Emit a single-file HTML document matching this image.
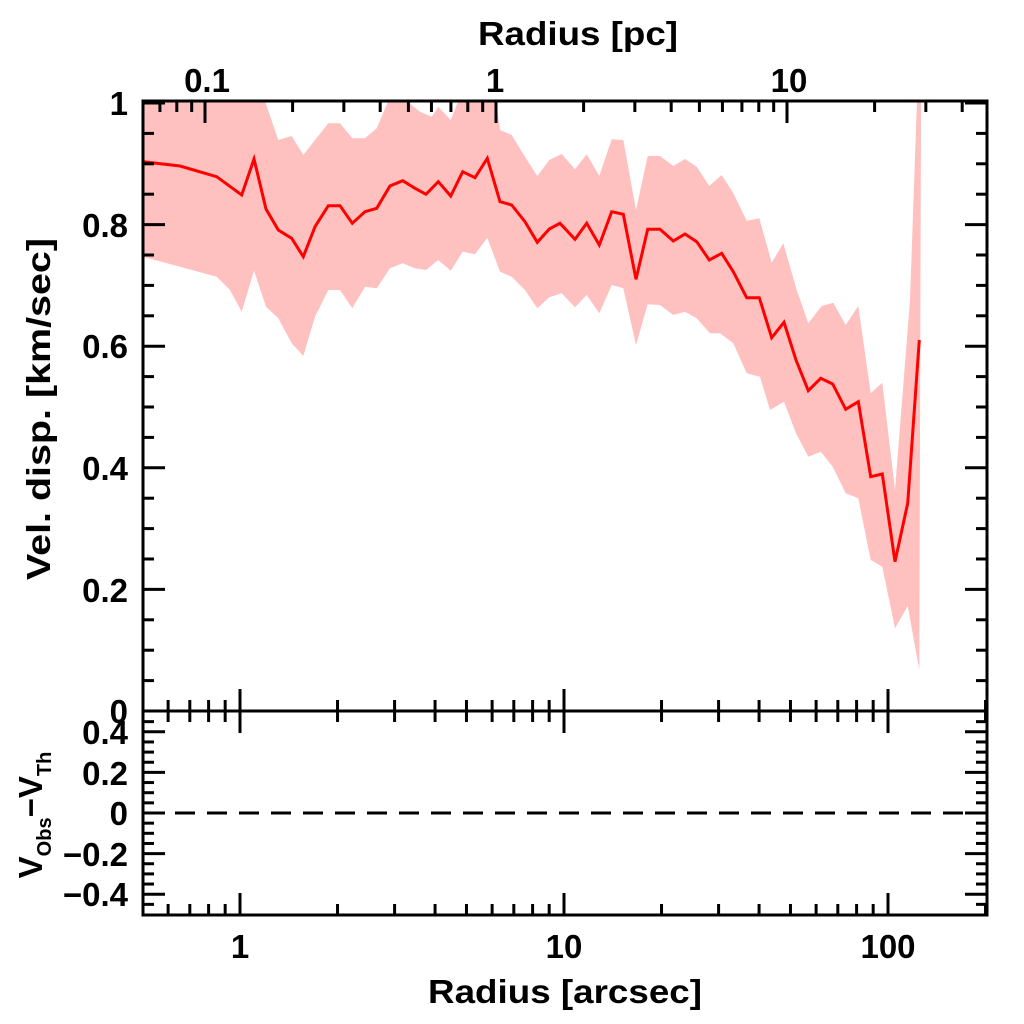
<!DOCTYPE html>
<html><head><meta charset="utf-8"><style>
html,body{margin:0;padding:0;background:#fff}
svg{display:block}
text{font-family:"Liberation Sans",sans-serif;font-weight:bold;fill:#000;font-size:33px}
</style></head><body>
<svg id="s" width="1024" height="1024" viewBox="0 0 1024 1024" xmlns="http://www.w3.org/2000/svg">
<polygon fill="#ffc0c0" points="143,101 265,101 278.3,140 291.7,136 303.3,155 315,140 328.3,123.3 340,123.3 352.3,138.3 365,138.3 376.7,128.3 388.3,101 406.7,101 420,111.7 431.7,116.7 438.3,106.7 450.7,120 458.3,101 496,101 500,130 511.7,135 525,156.7 537.3,176 549.3,160 561.7,154 575,169.3 586.7,154.3 599.3,176 611.7,139.3 623.3,140 636,210 647.7,156 660,156 673.3,166 685,159 696.7,166.7 709.3,186 721.7,175 733.3,193.3 746.7,220.7 759.3,218.3 771.7,262.7 783.3,243.3 796.7,290 808.3,323.3 821.7,306 833.3,302.7 845.7,325 858.3,306 870.7,393.3 882.3,382.7 895,490 910,300 917,101 921,101 919.3,670 907.7,606 895,628.3 882.3,566.7 870.7,560 858.3,498.3 845.7,493.3 832.7,466.7 820.7,451.7 808.3,456.7 796,433.3 784,401.7 770,410 760,376.7 746.7,373.3 733.3,343.3 720,333.3 710,333.3 696.7,318.3 685,311.7 673.3,315 660,305 647.7,304.3 636,345 623.3,288.3 611.7,285 599.3,313.3 586.7,295 575,307.3 561.7,293.3 549.3,297.3 537.3,308.3 525,290 511.7,276.7 500,271.7 487.3,237.7 475,254.3 462.7,251.7 450.7,270.7 438.3,260 426,270 415,268.3 402.7,263.3 390,268.3 376.7,288.3 365,286.7 352.3,308.3 340,290 328.3,290 315,316.7 303.3,356 291.7,343.3 278.3,318.3 266,306.7 254,270.7 241.7,311.7 230,290 216.7,276.7 143,256.7"/>
<polyline fill="none" stroke="#ff0000" stroke-width="3" stroke-linejoin="miter" points="143.3,161.7 180,166 216.7,176.7 241.7,195 254,159 266,209 278.3,230 291.7,238.3 303.3,256.7 315,226.7 328.3,205.7 340,205.7 352.3,223.3 365,211.7 376.7,208.3 390,186 402.7,180.7 415,188.3 426,194.3 438.3,181.7 450.7,196 462.7,171.7 475,177.7 487.3,158.3 500,201.7 511.7,205 525,221.7 537.3,242.3 549.3,229 560,223.3 575,239.3 586.7,223.3 599.3,245 611.7,211.7 623.3,214.3 636,279.3 647.7,229.3 660,229.3 673.3,241 685,234 696.7,241.7 709.3,260 721.7,253.3 733.3,271.7 746.7,297.7 759.3,297.7 771.7,337.7 784,322.3 796,360 808.3,390.7 820.7,378.3 832.7,384 845.7,409.3 858.3,401.7 870.7,476.7 882.3,474 895,561.7 907.7,503.3 919.3,340"/>
<line x1="143" y1="813" x2="987" y2="813" stroke="#000" stroke-width="3" stroke-dasharray="20,12"/>
<g id="ax" stroke="#000" stroke-width="3" fill="none">
<rect x="143" y="101" width="844" height="814"/>
<line x1="143" y1="711" x2="987" y2="711"/>
</g>
<text x="578" y="45" text-anchor="middle" textLength="200" lengthAdjust="spacingAndGlyphs">Radius [pc]</text>
<text x="207" y="92" text-anchor="middle">0.1</text>
<text x="495" y="92" text-anchor="middle">1</text>
<text x="789" y="92" text-anchor="middle">10</text>
<text x="240" y="958" text-anchor="middle">1</text>
<text x="564" y="958" text-anchor="middle">10</text>
<text x="888" y="958" text-anchor="middle">100</text>
<text x="565" y="1003" text-anchor="middle" textLength="274" lengthAdjust="spacingAndGlyphs">Radius [arcsec]</text>
<g text-anchor="end">
<text x="128" y="115">1</text>
<text x="128" y="237">0.8</text>
<text x="128" y="358">0.6</text>
<text x="128" y="480">0.4</text>
<text x="128" y="602">0.2</text>
<text x="128" y="723">0</text>
<text x="128" y="744">0.4</text>
<text x="128" y="785">0.2</text>
<text x="128" y="825">0</text>
<text x="128" y="866">−0.2</text>
<text x="128" y="906">−0.4</text>
</g>
<text transform="translate(50,409) rotate(-90)" text-anchor="middle" textLength="342" lengthAdjust="spacingAndGlyphs">Vel. disp. [km/sec]</text>
<text transform="translate(42,815) rotate(-90)" text-anchor="middle" font-size="33">V<tspan font-size="20" dy="9">Obs</tspan><tspan dy="-9">−V</tspan><tspan font-size="20" dy="9">Th</tspan></text>
</svg>
<script>
(function(){
var s=document.getElementById('s'),ns='http://www.w3.org/2000/svg';
function L(x1,y1,x2,y2){var l=document.createElementNS(ns,'line');l.setAttribute('x1',x1);l.setAttribute('y1',y1);l.setAttribute('x2',x2);l.setAttribute('y2',y2);l.setAttribute('stroke','#000');l.setAttribute('stroke-width','3');s.appendChild(l);}
var X=function(v){return 240+324*Math.log10(v)},T=function(v){return 496+291*Math.log10(v)};
[0.1,1,10,100].forEach(function(d){for(var k=1;k<10;k++){var v=d*k,x=X(v);if(x<144||x>986)continue;var len=k==1?22:11;L(x,711,x,711-len);L(x,711,x,711+len);L(x,915,x,915-len);}});
[0.01,0.1,1,10].forEach(function(d){for(var k=1;k<10;k++){var v=d*k,x=T(v);if(x<144||x>986)continue;var len=k==1?22:11;L(x,101,x,101+len);}});
for(var i=0;i<=20;i++){var y=711-i*0.05*608;var len=(i%4==0)?22:11;if(y<102||y>710)continue;L(143,y,143+len,y);L(987,y,987-len,y);}
for(var i=-10;i<=10;i++){var y=813-i*0.05*203;var len=(i%4==0)?22:11;if(y<712||y>914)continue;L(143,y,143+len,y);L(987,y,987-len,y);}
})();
</script>
</body></html>
